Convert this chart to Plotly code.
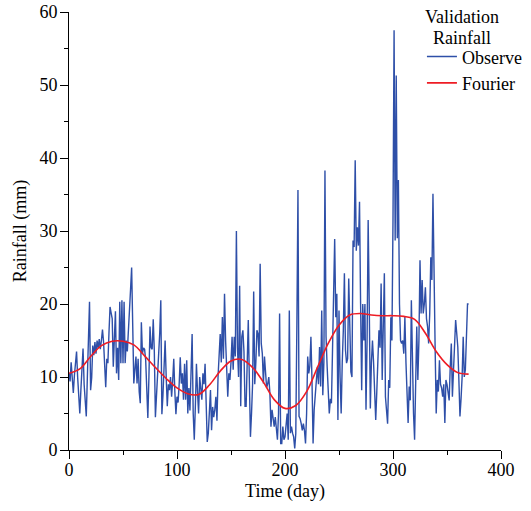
import plotly.graph_objects as go

# Observed daily rainfall (mm), day 0 .. 370
observe = [
    10.5, 9.4, 12.0, 9.0, 7.8, 10.2, 11.5, 13.5, 10.0, 7.0,
    5.0, 8.2, 11.0, 13.9, 9.0, 6.0, 4.6, 10.0, 15.0, 20.3,
    8.2, 9.9, 14.3, 13.0, 14.8, 13.2, 15.0, 14.0, 15.2, 13.8,
    15.0, 16.5, 14.8, 12.0, 8.6, 12.5, 11.9, 16.0, 19.6, 18.8,
    18.0, 11.4, 15.0, 19.0, 10.5, 14.0, 9.6, 20.3, 11.9, 20.5,
    11.9, 20.3, 11.9, 15.0, 13.5, 17.1, 19.5, 22.0, 25.0, 16.0,
    9.1, 11.0, 12.8, 9.1, 12.5, 8.0, 6.4, 17.5, 13.2, 14.0,
    13.8, 12.3, 8.0, 4.4, 10.0, 16.9, 14.0, 13.8, 17.9, 13.5,
    4.5, 7.0, 9.6, 13.5, 16.0, 20.5, 4.9, 7.5, 10.5, 15.0,
    10.0, 6.0, 9.0, 8.2, 10.0, 7.3, 9.5, 12.5, 8.0, 4.9,
    7.3, 6.5, 9.0, 12.7, 9.1, 10.5, 6.9, 11.8, 6.9, 12.3,
    5.0, 8.5, 5.4, 10.0, 15.9, 5.0, 1.4, 6.0, 11.8, 8.0,
    5.0, 10.0, 8.0, 6.9, 10.5, 9.0, 11.8, 5.0, 1.1, 2.3,
    5.0, 8.2, 2.7, 5.9, 4.5, 5.5, 7.3, 4.0, 10.0, 13.7,
    15.9, 12.0, 18.2, 12.5, 21.4, 15.0, 10.5, 7.3, 10.5, 9.6,
    12.0, 15.5, 11.0, 15.5, 12.8, 30.0, 14.0, 10.0, 22.5, 6.0,
    15.5, 16.4, 13.5, 6.0, 6.0, 12.0, 17.8, 9.5, 1.8, 5.0,
    9.1, 21.7, 9.0, 12.0, 16.4, 15.9, 12.8, 25.5, 14.6, 13.2,
    9.1, 12.8, 10.5, 8.5, 9.1, 10.0, 7.8, 3.2, 5.5, 4.0,
    3.2, 4.5, 3.2, 1.4, 5.0, 18.7, 0.9, 0.9, 3.2, 1.4,
    1.8, 3.5, 5.0, 1.4, 19.1, 2.3, 3.2, 2.3, 1.8, 0.2,
    2.3, 17.3, 35.6, 4.6, 4.3, 3.6, 2.7, 3.6, 2.7, 0.9,
    5.0, 12.8, 10.5, 11.5, 15.5, 9.5, 0.9, 5.5, 7.5, 9.1,
    11.4, 9.0, 14.1, 8.7, 19.1, 7.5, 12.0, 38.3, 15.5, 11.5,
    9.0, 5.0, 7.0, 6.4, 13.7, 20.0, 28.9, 18.2, 21.4, 4.1,
    19.1, 10.0, 5.0, 12.0, 16.4, 24.2, 13.7, 11.9, 12.5, 23.5,
    16.0, 10.7, 10.0, 28.7, 27.8, 39.7, 27.3, 30.5, 28.0, 34.0,
    20.0, 8.2, 20.0, 15.0, 20.0, 5.5, 15.0, 31.5, 20.0, 5.7,
    12.0, 15.0, 12.0, 9.0, 4.1, 8.0, 12.0, 16.4, 14.0, 22.8,
    9.6, 16.0, 24.2, 7.3, 5.9, 3.6, 9.6, 8.5, 18.2, 15.0,
    31.5, 57.5, 28.7, 51.3, 29.0, 37.0, 20.0, 15.0, 14.6, 15.0,
    13.2, 18.2, 12.0, 8.0, 3.7, 8.7, 6.8, 20.5, 12.0, 5.0,
    1.4, 9.6, 16.9, 9.6, 15.0, 26.0, 18.7, 23.3, 18.7, 20.0,
    22.3, 18.0, 16.9, 14.6, 18.7, 26.4, 23.3, 35.1, 20.0, 14.1,
    5.0, 9.6, 8.0, 12.3, 9.0, 8.5, 7.3, 9.0, 3.7, 9.6,
    9.0, 8.0, 6.8, 11.4, 14.6, 7.3, 11.0, 14.0, 17.8, 16.0,
    14.1, 9.6, 4.6, 7.0, 10.0, 15.5, 10.0, 11.0, 15.0, 20.0,
    20.0,
]
days = list(range(len(observe)))

# Fourier fit, read at 10-day steps
fourier_days = [0, 10, 20, 30, 40, 50, 60, 70, 80, 90, 100, 110, 120, 130,
                140, 150, 160, 170, 180, 190, 200, 210, 220, 230, 240, 250,
                260, 270, 280, 290, 300, 310, 320, 330, 340, 350, 360, 370]
fourier = [10.5, 11.1, 12.8, 14.3, 14.9, 14.9, 14.4, 12.9, 11.3, 9.8, 8.5,
           7.7, 7.6, 8.9, 10.8, 12.2, 12.4, 11.3, 9.3, 6.9, 5.7, 6.1, 8.0,
           11.3, 14.6, 17.1, 18.5, 18.7, 18.5, 18.4, 18.4, 18.3, 17.9, 16.0,
           13.5, 11.7, 10.6, 10.4]

x_ticks = [0, 100, 200, 300, 400]
y_ticks = [0, 10, 20, 30, 40, 50, 60]
legend_title = ["Validation", "Rainfall"]

FONT = "Liberation Serif"
BLACK = "black"

fig = go.Figure()
fig.add_trace(go.Scatter(x=days, y=observe, mode="lines", name="Observe",
                         line=dict(color="#2e4fa8", width=1.4)))
fig.add_trace(go.Scatter(x=fourier_days, y=fourier, mode="lines", name="Fourier",
                         line=dict(color="#ee1c24", width=1.6, shape="spline")))

axis_common = dict(showgrid=False, zeroline=False, showline=True, linecolor=BLACK,
                   linewidth=1, ticks="outside", ticklen=8, tickcolor=BLACK,
                   tickfont=dict(family=FONT, size=18, color=BLACK), automargin=False)

fig.update_xaxes(range=[0, 400], tickvals=x_ticks, ticklabelstandoff=-5, **axis_common,
                 minor=dict(ticks="outside", ticklen=4, dtick=50, tick0=0, tickcolor=BLACK),
                 title=dict(text="Time (day)", font=dict(family=FONT, size=18, color=BLACK), standoff=5))
fig.update_yaxes(range=[0, 60], tickvals=y_ticks, ticklabelstandoff=-1, **axis_common,
                 minor=dict(ticks="outside", ticklen=4, dtick=5, tick0=0, tickcolor=BLACK),
                 title=dict(text="Rainfall (mm)", font=dict(family=FONT, size=18, color=BLACK), standoff=8))

fig.update_layout(
    width=531, height=511,
    margin=dict(l=69, r=30, t=12, b=61, autoexpand=False),
    plot_bgcolor="white", paper_bgcolor="white",
    font=dict(family=FONT, size=18, color=BLACK),
    legend=dict(x=0.817, y=0.94, xanchor="left", yanchor="top",
                bgcolor="rgba(0,0,0,0)",
                font=dict(family=FONT, size=18, color=BLACK),
                tracegroupgap=0),
)
for txt, yp in zip(legend_title, [0.9886, 0.9406]):
    fig.add_annotation(text=txt, xref="paper", yref="paper", x=0.9097, y=yp,
                       xanchor="center", yanchor="middle", showarrow=False,
                       font=dict(family=FONT, size=18, color=BLACK))

# remove the browser's default 8px body margin so the figure sits at the page origin
fig.write_html("out.html", config={"displayModeBar": False},
               post_script="document.body.style.margin='0px';")
